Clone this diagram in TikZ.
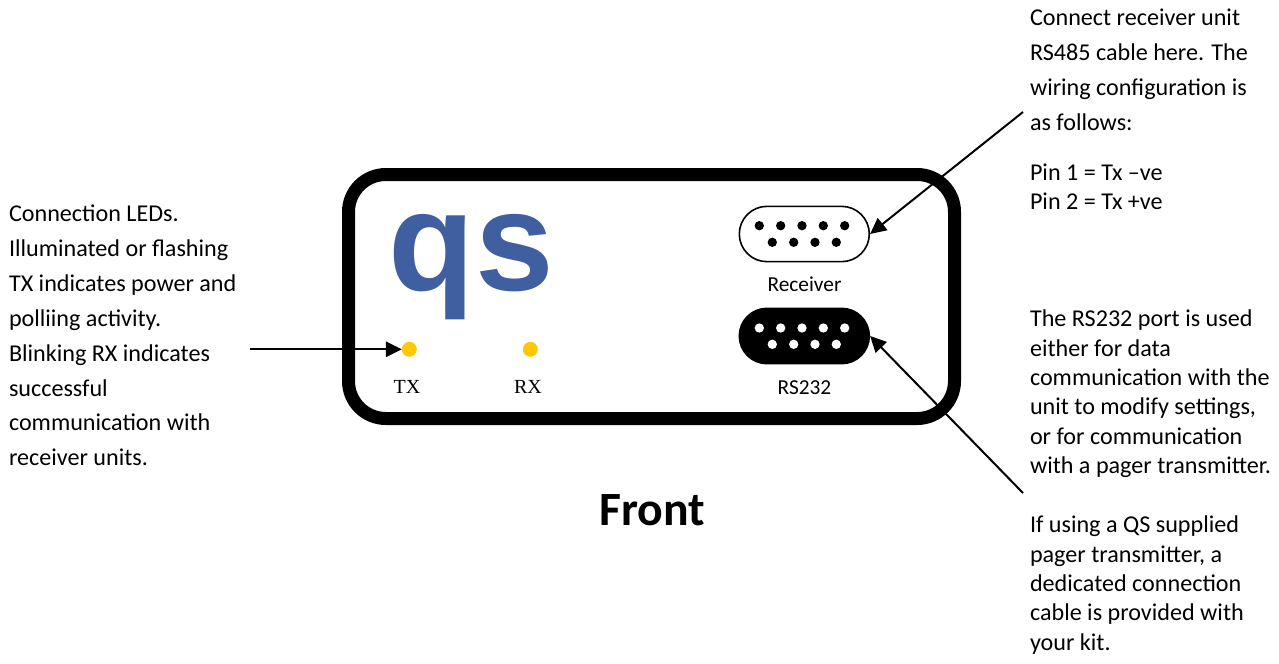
\documentclass[tikz,border=0pt]{standalone}
\usepackage{fontspec}
\setmainfont{Carlito}
\newfontfamily\logofont{Liberation Sans}
\newfontfamily\ledfont{Liberation Serif}
\usetikzlibrary{arrows.meta,shapes.misc}
\definecolor{logoblue}{HTML}{3F5FA0}
\definecolor{ledyellow}{HTML}{FFC800}
\tikzset{
  x=0.75pt,y=-0.75pt,
  body/.style={anchor=north west,align=left,inner sep=0pt,outer sep=0pt,font=\fontsize{18.1}{#1}\selectfont},
  body/.default={26.15},
  portlabel/.style={inner sep=0pt,font=\fontsize{16}{18}\selectfont},
  ledlabel/.style={inner sep=0pt,font=\ledfont\fontsize{15}{17}\selectfont},
  led/.style={circle,fill=ledyellow,minimum size=11.2pt,inner sep=0pt,outer sep=0pt},
  port/.style={rounded rectangle,draw=black,line width=1.2pt,minimum width=97.5pt,minimum height=41.5pt,inner sep=0pt,outer sep=0.6pt},
  pin/.style={circle,fill=#1,minimum size=7pt,inner sep=0pt,outer sep=0pt},
  pointer/.style={line width=1.5pt,-{Triangle[length=12pt,width=11.5pt]}},
}
\begin{document}
\begin{tikzpicture}
\useasboundingbox (0,0) rectangle (1279,664);
\fill[white] (0,0) rectangle (1279,664);
\draw[line width=9.75pt,rounded corners=28pt] (348.5,174.5) rectangle (954.5,418.5);
\node[anchor=base west,inner sep=0pt,text=logoblue,font=\logofont\bfseries\fontsize{106}{106}\selectfont] (logo) at (388.5,290.5) {qs};
% LEDs
\node[led] (tx) at (409.3,349.3) {};
\node[led] (rx) at (530.3,349.3) {};
\node[ledlabel] (txl) at (407,386.5) {TX};
\node[ledlabel] (rxl) at (528,386.5) {RX};
% Ports
\node[port,fill=white] (recv) at (804.3,234) {};
\node[port,fill=black] (rs) at (804.3,336) {};
\foreach \i/\x in {1/759.3,2/780.7,3/802,4/823.3,5/844.7}{
  \node[pin=black] (ra\i) at (\x,225.7) {};
  \node[pin=white] (sa\i) at (\x,328) {};
}
\foreach \i/\x in {1/772.3,2/793.7,3/815,4/836.3}{
  \node[pin=black] (rb\i) at (\x,242.3) {};
  \node[pin=white] (sb\i) at (\x,344.3) {};
}
\node[portlabel] (recvl) at (804.5,284.5) {Receiver};
\node[portlabel] (rsl) at (804.5,387.5) {RS232};
\node[anchor=base,inner sep=0pt,font=\bfseries\fontsize{35.8}{40}\selectfont] (front) at (652,525) {Front};
% Texts
\node[body] (left) at (9,205) {Connection LEDs.\\Illuminated or flashing\\TX indicates power and\\polliing activity.\\Blinking RX indicates\\successful\\communication with\\receiver units.};
\node[body] (t1) at (1030,9) {Connect receiver unit\\RS485 cable here. The\\wiring configuration is\\as follows:};
\node[body={22}] (t2) at (1030,164) {Pin 1 = Tx –ve\\Pin 2 = Tx +ve};
\node[body={22}] (t3) at (1030,310) {The RS232 port is used\\either for data\\communication with the\\unit to modify settings,\\or for communication\\with a pager transmitter.};
\node[body={22}] (t4) at (1030,516) {If using a QS supplied\\pager transmitter, a\\dedicated connection\\cable is provided with\\your kit.};
% Connectors
\coordinate (a1) at (1023,112);
\coordinate (a2) at (1023,493);
\coordinate (a3) at (250,349.3);
\draw[pointer] (a1) -- (recv.east);
\draw[pointer] (a2) -- (rs.east);
\draw[pointer] (a3) -- (tx.west);
\end{tikzpicture}
\end{document}
